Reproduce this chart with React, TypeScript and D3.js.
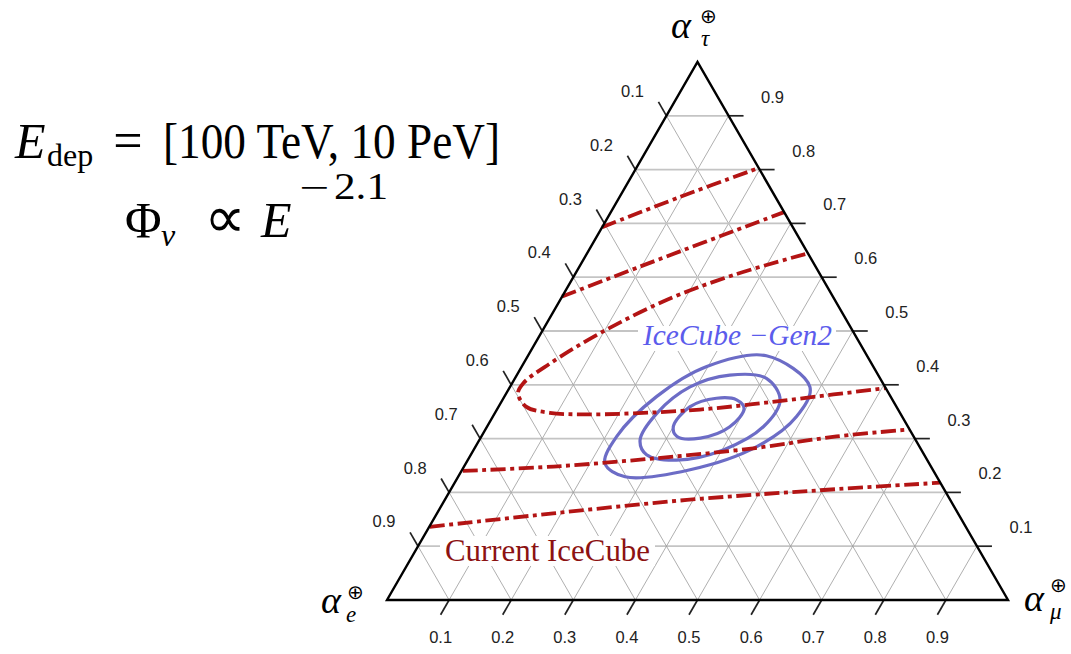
import React from 'react';
import * as d3 from 'd3';

// ternary points are [alpha_mu, alpha_tau]; alpha_e = 1 - mu - tau
type TP = [number, number];

const tickValues = [0.1, 0.2, 0.3, 0.4, 0.5, 0.6, 0.7, 0.8, 0.9];
const tickLabels = ['0.1', '0.2', '0.3', '0.4', '0.5', '0.6', '0.7', '0.8', '0.9'];

// Current IceCube contours (red dash-dot)
const icBand1: TP[] = [[0, 0.693], [0.097, 0.749], [0.197, 0.803]];
const icBand2: TP[] = [[0, 0.564], [0.098, 0.62], [0.279, 0.721]];
const icBand3: TP[] = [
  [0.352, 0.643], [0.256, 0.604], [0.172, 0.558], [0.095, 0.496], [0.043, 0.44],
  [0.018, 0.403], [0.019, 0.384], [0.045, 0.359], [0.088, 0.348], [0.144, 0.345],
  [0.223, 0.347], [0.327, 0.354], [0.428, 0.367], [0.528, 0.382], [0.606, 0.394],
];
const icBand4: TP[] = [[0.002, 0.24], [0.144, 0.248], [0.297, 0.263], [0.449, 0.282], [0.572, 0.304], [0.683, 0.317]];
const icBand5: TP[] = [[0.001, 0.136], [0.187, 0.161], [0.39, 0.186], [0.595, 0.204], [0.782, 0.218]];

// IceCube-Gen2 contours (closed, blue)
const gen2Outer: TP[] = [
  [0.483, 0.396], [0.384, 0.454], [0.298, 0.434], [0.245, 0.378], [0.218, 0.304],
  [0.224, 0.254], [0.269, 0.229], [0.367, 0.242], [0.453, 0.285], [0.489, 0.341],
];
const gen2Middle: TP[] = [
  [0.447, 0.372], [0.405, 0.412], [0.343, 0.418], [0.29, 0.396], [0.261, 0.347],
  [0.259, 0.297], [0.283, 0.27], [0.336, 0.26], [0.402, 0.279], [0.445, 0.322],
];
const gen2Inner: TP[] = [
  [0.397, 0.356], [0.377, 0.372], [0.343, 0.375], [0.308, 0.359], [0.3, 0.322],
  [0.315, 0.304], [0.354, 0.301], [0.391, 0.322],
];

const currentIceCube = [icBand1, icBand2, icBand3, icBand4, icBand5];
const gen2 = [gen2Outer, gen2Middle, gen2Inner];

const serif = '"Liberation Serif", "DejaVu Serif", serif';
const sans = '"Liberation Sans", Arial, sans-serif';
const symb = '"DejaVu Sans", sans-serif';

export default function App() {
  const W = 1071, H = 654;
  // horizontal position uses u = mu + tau/2
  const xs = d3.scaleLinear().domain([0, 1]).range([387, 1008]);
  const ys = d3.scaleLinear().domain([0, 1]).range([600, 62]);
  const px = (d: TP) => xs(d[0] + d[1] / 2);
  const py = (d: TP) => ys(d[1]);

  const line = d3.line<TP>().x(px).y(py).curve(d3.curveCatmullRom.alpha(0.5));
  const loop = d3.line<TP>().x(px).y(py).curve(d3.curveCatmullRomClosed.alpha(0.5));

  const s60 = Math.sin(Math.PI / 3), c60 = 0.5;

  const grid: { a: TP; b: TP; h: boolean }[] = [];
  tickValues.forEach(k => {
    grid.push({ a: [0, k], b: [1 - k, k], h: true });
    grid.push({ a: [0, 1 - k], b: [1 - k, 0], h: false });
    grid.push({ a: [k, 1 - k], b: [k, 0], h: false });
  });

  const tri: TP[] = [[0, 0], [1, 0], [0, 1]];

  return (
    <svg width={W} height={H} style={{ position: 'absolute', left: 0, top: 0, background: '#fff' }}>
      {/* grid */}
      <g>
        {grid.map((g, i) => (
          <line key={i} x1={px(g.a)} y1={py(g.a)} x2={px(g.b)} y2={py(g.b)}
            stroke={g.h ? '#c4c4c4' : '#9a9a9a'} strokeWidth={g.h ? 1.8 : 0.8} />
        ))}
      </g>

      {/* ticks and labels */}
      <g stroke="#222" strokeWidth={1.7}>
        {tickValues.map((k, i) => {
          const p: TP = [0, 1 - k];
          return <line key={'l' + i} x1={px(p)} y1={py(p)} x2={px(p) - c60 * 16} y2={py(p) - s60 * 16} />;
        })}
        {tickValues.map((k, i) => {
          const p: TP = [1 - k, k];
          return <line key={'r' + i} x1={px(p)} y1={py(p)} x2={px(p) + 15} y2={py(p)} />;
        })}
        {tickValues.map((k, i) => {
          const p: TP = [k, 0];
          return <line key={'b' + i} x1={px(p)} y1={py(p)} x2={px(p) - c60 * 17} y2={py(p) + s60 * 17} />;
        })}
      </g>
      <g fontFamily={sans} fontSize={16.5} fill="#222" textAnchor="middle" dominantBaseline="central">
        {tickValues.map((k, i) => {
          const p: TP = [0, 1 - k];
          return <text key={'lt' + i} x={px(p) - c60 * 16 - 26} y={py(p) - s60 * 16 - 11}>{tickLabels[i]}</text>;
        })}
        {tickValues.map((k, i) => {
          const p: TP = [1 - k, k];
          return <text key={'rt' + i} x={px(p) + 15 + 29} y={py(p) - 19}>{tickLabels[i]}</text>;
        })}
        {tickValues.map((k, i) => {
          const p: TP = [k, 0];
          return <text key={'bt' + i} x={px(p) - c60 * 17} y={py(p) + s60 * 17 + 22}>{tickLabels[i]}</text>;
        })}
      </g>

      {/* white boxes behind labels */}
      <rect x={638} y={326} width={198} height={25} fill="#fff" />
      <rect x={440} y={536} width={215} height={30} fill="#fff" />

      {/* Gen2 contours */}
      <g fill="none" stroke="#6c6cc6" strokeWidth={3.2}>
        {gen2.map((c, i) => <path key={i} d={loop(c) || ''} />)}
      </g>

      {/* current IceCube contours */}
      <g fill="none" stroke="#b31414" strokeWidth={3.8} strokeDasharray="15 4.5 4 4.5">
        {currentIceCube.map((c, i) => <path key={i} d={line(c) || ''} />)}
      </g>

      {/* triangle */}
      <path d={'M' + tri.map(d => `${px(d)},${py(d)}`).join('L') + 'Z'} fill="none" stroke="#000" strokeWidth={2.4} strokeLinejoin="miter" />

      {/* contour labels */}
      <text x={643} y={345} fontFamily={serif} fontStyle="italic" fontSize={29} fill="#5c5cec"
        textLength={189} lengthAdjust="spacingAndGlyphs">IceCube −Gen2</text>
      <text x={445} y={561} fontFamily={serif} fontSize={31} fill="#8c1212"
        textLength={205} lengthAdjust="spacingAndGlyphs">Current IceCube</text>

      {/* corner labels */}
      <g fontFamily={serif} fill="#000">
        <text x={671} y={38} fontSize={38} fontStyle="italic">α
          <tspan x={700} y={23} fontSize={20} fontStyle="normal" fontFamily={symb}>⊕</tspan>
          <tspan x={701} y={46} fontSize={23}>τ</tspan>
        </text>
        <text x={321} y={613} fontSize={38} fontStyle="italic">α
          <tspan x={347} y={599} fontSize={20} fontStyle="normal" fontFamily={symb}>⊕</tspan>
          <tspan x={346} y={622} fontSize={23}>e</tspan>
        </text>
        <text x={1024} y={611} fontSize={38} fontStyle="italic">α
          <tspan x={1050} y={592} fontSize={20} fontStyle="normal" fontFamily={symb}>⊕</tspan>
          <tspan x={1050} y={619} fontSize={23}>μ</tspan>
        </text>
      </g>

      {/* annotation */}
      <g fontFamily={serif} fill="#000">
        <text x={15} y={158} fontSize={50} fontStyle="italic">E</text>
        <text x={47} y={166} fontSize={32}>dep</text>
        <text x={128} y={158} fontSize={52} textAnchor="middle">=</text>
        <text x={163} y={158} fontSize={50} textLength={337} lengthAdjust="spacingAndGlyphs">[100 TeV, 10 PeV]</text>

        <text x={125} y={237} fontSize={50}>Φ</text>
        <text x={161} y={246} fontSize={32} fontStyle="italic">ν</text>
        <text x={225} y={237} fontSize={58} textAnchor="middle" fontFamily={symb}>∝</text>
        <text x={261} y={237} fontSize={50} fontStyle="italic">E</text>
        <text x={299} y={199} fontSize={34} textLength={30} lengthAdjust="spacingAndGlyphs">−</text>
        <text x={334} y={199} fontSize={37} textLength={54} lengthAdjust="spacingAndGlyphs">2.1</text>
      </g>
    </svg>
  );
}
